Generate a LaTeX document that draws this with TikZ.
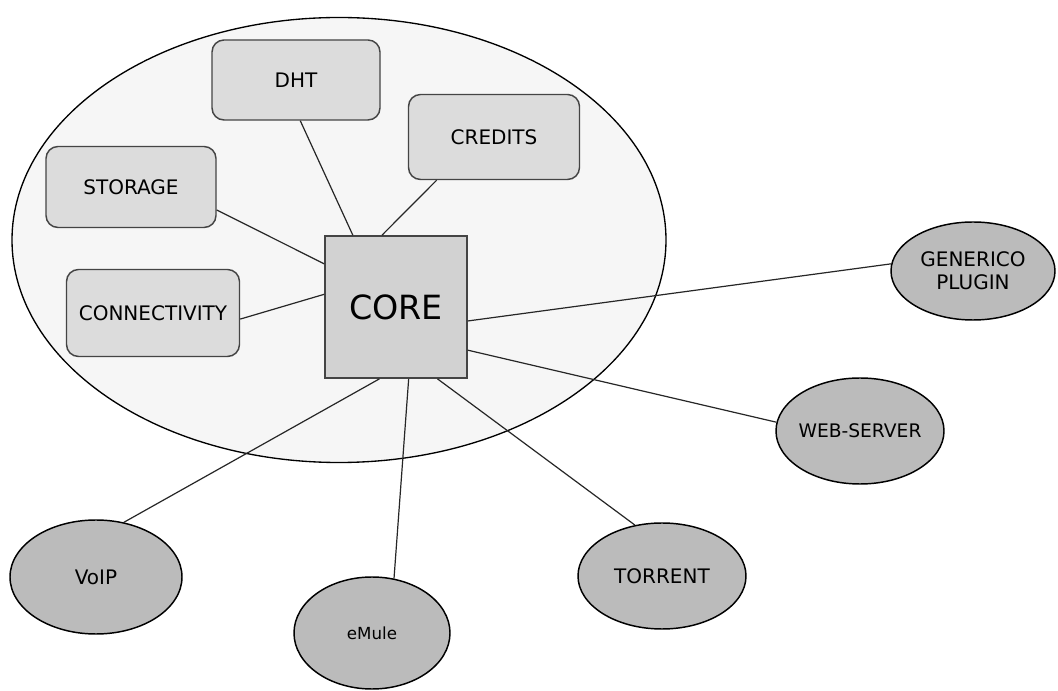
\documentclass[tikz,border=0pt]{standalone}
\usepackage{fontspec}
\setmainfont{DejaVu Sans}
\usetikzlibrary{shapes.geometric}
\definecolor{boxfill}{HTML}{DCDCDC}
\definecolor{corefill}{HTML}{D2D2D2}
\definecolor{plugfill}{HTML}{BBBBBB}
\definecolor{bigfill}{HTML}{F6F6F6}
\definecolor{edge}{HTML}{444444}
\tikzset{
  module/.style={draw=edge, line width=1.1pt, fill=boxfill, rounded corners=9pt, inner sep=0pt, font=\fontsize{15}{17}\selectfont},
  plugin/.style={draw=black, line width=1.1pt, fill=plugfill, ellipse, inner sep=0pt, font=\fontsize{15}{17}\selectfont, align=center},
  link/.style={draw=black!85, line width=0.9pt},
}
\begin{document}
\begin{tikzpicture}[x=0.75pt, y=-0.75pt]
\useasboundingbox (0,0) rectangle (1058,691);
\fill[white] (0,0) rectangle (1058,691);
% big ellipse
\node[draw=black, line width=1pt, fill=bigfill, ellipse, minimum width=654*0.75pt, minimum height=445*0.75pt, inner sep=0pt] (ring) at (339,240) {};
% modules
\node[module, minimum width=168*0.75pt, minimum height=80*0.75pt] (dht) at (296,80) {DHT};
\node[module, minimum width=171*0.75pt, minimum height=85*0.75pt] (credits) at (494,137) {CREDITS};
\node[module, minimum width=170*0.75pt, minimum height=81*0.75pt] (storage) at (131,187) {STORAGE};
\node[module, minimum width=173*0.75pt, minimum height=87*0.75pt] (conn) at (153,313) {CONNECTIVITY};
% core
\node[draw=edge, line width=1.3pt, fill=corefill, minimum width=142*0.75pt, minimum height=142*0.75pt, inner sep=0pt, font=\fontsize{25}{28}\selectfont] (core) at (396,307) {CORE};
% plugins
\node[plugin, minimum width=164*0.75pt, minimum height=98*0.75pt] (gen) at (973,271) {\makebox[0pt]{GENERICO}\\\makebox[0pt]{PLUGIN}};
\node[plugin, minimum width=168*0.75pt, minimum height=106*0.75pt, font=\fontsize{14}{16}\selectfont] (web) at (860,431) {\makebox[0pt]{WEB-SERVER}};
\node[plugin, minimum width=172*0.75pt, minimum height=114*0.75pt] (voip) at (96,577) {VoIP};
\node[plugin, minimum width=156*0.75pt, minimum height=112*0.75pt] (emule) at (372,633) {\fontsize{12.5}{14}\selectfont eMule};
\node[plugin, minimum width=168*0.75pt, minimum height=106*0.75pt] (torrent) at (662,576) {\makebox[0pt]{TORRENT}};
% links
\draw[link] (dht.-84) -- (core.121.8);
\draw[link] (credits.217) -- (core.101.9);
\draw[link] (storage.-15) -- (core.149.4);
\draw[link] (conn.-4.6) -- (core.170.4);
\draw[link] (core.-11.2) -- (gen.175.9);
\draw[link] (core.-31.2) -- (web.174.5);
\draw[link] (core.257.3) -- (voip.63);
\draw[link] (core.-80.4) -- (emule.68.2);
\draw[link] (core.-60) -- (torrent.118.2);
\end{tikzpicture}
\end{document}
